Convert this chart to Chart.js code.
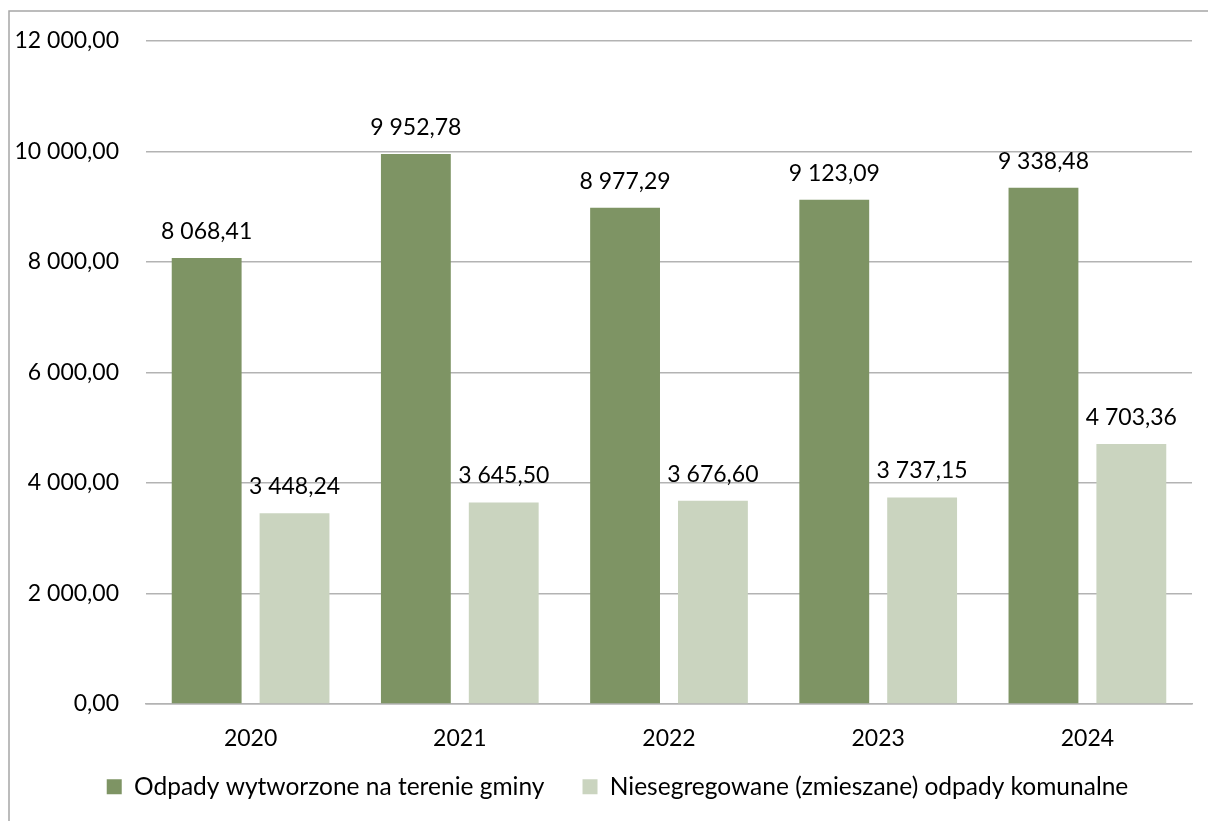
<!DOCTYPE html>
<html><head><meta charset="utf-8">
<script src="https://cdn.jsdelivr.net/npm/chart.js@4/dist/chart.umd.min.js"></script>
<style>html,body{margin:0;padding:0;background:#fff;}#wrap{width:1208px;height:821px;position:relative;}</style>
</head><body><div id="wrap"><canvas id="c" width="1208" height="821"></canvas></div>
<script>
const categories = ['2020', '2021', '2022', '2023', '2024'];
const seriesNames = ['Odpady wytworzone na terenie gminy', 'Niesegregowane (zmieszane) odpady komunalne'];
const generated = [8068.41, 9952.78, 8977.29, 9123.09, 9338.48];
const mixed = [3448.24, 3645.50, 3676.60, 3737.15, 4703.36];
const yTicks = [0, 2000, 4000, 6000, 8000, 10000, 12000];

function fmt(v) {
  const parts = Number(v).toFixed(2).split('.');
  const intPart = parts[0].replace(/\B(?=(\d{3})+(?!\d))/g, ' ');
  return intPart + ',' + parts[1];
}

const FONT = 'Lato, "Open Sans", sans-serif';
const FS = 23;
const LFS = 24.5;

const valueLabels = {
  id: 'valueLabels',
  afterDatasetsDraw(chart) {
    const ctx = chart.ctx;
    ctx.save();
    ctx.font = FS + 'px ' + FONT;
    ctx.fillStyle = '#000';
    ctx.textAlign = 'center';
    ctx.textBaseline = 'alphabetic';
    chart.data.datasets.forEach((ds, i) => {
      chart.getDatasetMeta(i).data.forEach((bar, j) => {
        ctx.fillText(fmt(ds.data[j]), bar.x, bar.y - 19);
      });
    });
    ctx.restore();
  }
};

const frame = {
  id: 'frame',
  afterLayout(chart) {
    if (chart.legend) chart.legend.left = 43;
  },
  beforeDraw(chart) {
    const ctx = chart.ctx;
    ctx.save();
    ctx.fillStyle = '#fff';
    ctx.fillRect(0, 0, chart.width, chart.height);
    ctx.strokeStyle = '#a6a6a6';
    ctx.lineWidth = 1.5;
    ctx.beginPath();
    ctx.moveTo(9, chart.height);
    ctx.lineTo(9, 11);
    ctx.lineTo(chart.width, 11);
    ctx.stroke();
    ctx.restore();
  }
};

new Chart(document.getElementById('c'), {
  type: 'bar',
  data: {
    labels: categories,
    datasets: [
      { label: seriesNames[0], data: generated, backgroundColor: '#7e9464', categoryPercentage: 0.84, barPercentage: 0.795 },
      { label: seriesNames[1], data: mixed, backgroundColor: '#cad4bf', categoryPercentage: 0.84, barPercentage: 0.795 }
    ]
  },
  plugins: [frame, valueLabels],
  options: {
    responsive: false,
    animation: false,
    devicePixelRatio: 1,
    layout: { padding: { top: 39, right: 16, left: 0, bottom: 12 } },
    plugins: {
      tooltip: { enabled: false },
      legend: {
        position: 'bottom',
        labels: {
          font: { family: FONT, size: LFS }, color: '#000', boxWidth: 15, boxHeight: 15, padding: 1,
          generateLabels(chart) {
            const items = Chart.defaults.plugins.legend.labels.generateLabels(chart);
            items.forEach((it, i) => { if (i < items.length - 1) it.text = it.text + '\u00a0'.repeat(6); });
            return items;
          }
        }
      }
    },
    scales: {
      x: {
        grid: { display: false, drawTicks: false },
        border: { display: true, color: '#b3b3b3', width: 1.5 },
        ticks: { font: { family: FONT, size: FS }, color: '#000', padding: 21 }
      },
      y: {
        min: 0, max: 12000,
        afterFit(scale) { scale.width = 146; },
        afterBuildTicks(scale) { scale.ticks = yTicks.map(v => ({ value: v })); },
        grid: { color: '#b3b3b3', lineWidth: 1.5, drawTicks: false },
        border: { display: false },
        ticks: { font: { family: FONT, size: FS }, color: '#000', padding: 27, callback: v => fmt(v) }
      }
    }
  }
});
</script>
</body></html>
